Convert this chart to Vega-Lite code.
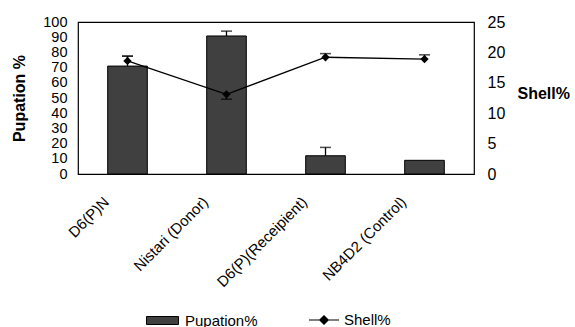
{
  "$schema": "https://vega.github.io/schema/vega-lite/v6.json",
  "autosize": "none",
  "width": 396,
  "height": 152,
  "padding": {"left": 78, "top": 22, "right": 101, "bottom": 153},
  "background": "white",
  "config": {
    "font": "Liberation Sans",
    "view": {"stroke": "black", "strokeWidth": 1.2},
    "axis": {"labelColor": "black", "titleColor": "black", "grid": false, "domain": false, "ticks": false, "labelFont": "Liberation Sans", "titleFont": "Liberation Sans", "labelOverlap": false}
  },
  "data": {
    "values": [
      {"cat": "D6(P)N", "pup": 71, "pupHi": 77.5, "shell": 18.6, "sLo": 18.6, "sHi": 19.4, "sCap": 19.4},
      {"cat": "Nistari (Donor)", "pup": 90.8, "pupHi": 94, "shell": 13.1, "sLo": 12.3, "sHi": 13.1, "sCap": 12.3},
      {"cat": "D6(P)(Receipient)", "pup": 12, "pupHi": 17.5, "shell": 19.2, "sLo": 19.2, "sHi": 19.8, "sCap": 19.8},
      {"cat": "NB4D2 (Control)", "pup": 9, "pupHi": null, "shell": 18.9, "sLo": 18.9, "sHi": 19.6, "sCap": 19.6}
    ]
  },
  "encoding": {
    "x": {
      "field": "cat", "type": "nominal", "sort": null,
      "scale": {"paddingInner": 0.6, "paddingOuter": 0.3},
      "axis": {"title": null, "labelAngle": -45, "labelAlign": "right", "labelBaseline": "middle", "labelFontSize": 15, "labelPadding": 25, "labelOffset": -21, "labelLimit": 300}
    }
  },
  "layer": [
    {
      "layer": [
        {
          "mark": {"type": "bar", "stroke": "black", "strokeWidth": 1},
          "encoding": {
            "y": {"field": "pup", "type": "quantitative", "scale": {"domain": [0, 100]}, "title": "Pupation %",
              "axis": {"orient": "left", "title": "Pupation %", "values": [0,10,20,30,40,50,60,70,80,90,100], "labelOverlap": false, "labelFontSize": 14.5, "labelPadding": 11, "titleFontSize": 16, "titleFontWeight": "bold", "titleAngle": -90, "titleX": -59, "titleY": 76, "titleAlign": "center", "titleBaseline": "middle"}},
            "fill": {"datum": "Pupation%", "type": "nominal", "scale": {"range": ["#404040"]},
              "legend": {"orient": "none", "legendX": 68, "legendY": 282, "title": null, "labelFontSize": 15, "symbolType": "M-1,-0.25H1V0.25H-1Z", "symbolSize": 1024, "symbolStrokeColor": "black", "symbolStrokeWidth": 1, "labelOffset": 6}}
          }
        },
        {
          "transform": [{"filter": "datum.pupHi != null"}],
          "mark": {"type": "rule", "color": "black", "strokeWidth": 1.3},
          "encoding": {
            "y": {"field": "pup", "type": "quantitative", "scale": {"domain": [0, 100]}, "title": "Pupation %",
              "axis": {"orient": "left", "title": "Pupation %", "values": [0,10,20,30,40,50,60,70,80,90,100], "labelOverlap": false, "labelFontSize": 14.5, "labelPadding": 11, "titleFontSize": 16, "titleFontWeight": "bold", "titleAngle": -90, "titleX": -59, "titleY": 76, "titleAlign": "center", "titleBaseline": "middle"}},
            "y2": {"field": "pupHi"}
          }
        },
        {
          "transform": [{"filter": "datum.pupHi != null"}],
          "mark": {"type": "tick", "color": "black", "size": 11, "thickness": 1.5},
          "encoding": {
            "y": {"field": "pupHi", "type": "quantitative", "scale": {"domain": [0, 100]}, "title": "Pupation %",
              "axis": {"orient": "left", "title": "Pupation %", "values": [0,10,20,30,40,50,60,70,80,90,100], "labelOverlap": false, "labelFontSize": 14.5, "labelPadding": 11, "titleFontSize": 16, "titleFontWeight": "bold", "titleAngle": -90, "titleX": -59, "titleY": 76, "titleAlign": "center", "titleBaseline": "middle"}}
          }
        }
      ]
    },
    {
      "layer": [
        {
          "mark": {"type": "line", "strokeWidth": 1.3},
          "encoding": {
            "y": {"field": "shell", "type": "quantitative", "scale": {"domain": [0, 25]}, "title": "Shell%",
              "axis": {"orient": "right", "title": "Shell%", "values": [0,5,10,15,20,25], "labelOverlap": false, "labelFontSize": 16, "labelPadding": 13, "titleFontSize": 16, "titleFontWeight": "bold", "titleAngle": 0, "titleX": 43, "titleY": 71, "titleAlign": "left", "titleBaseline": "middle"}},
            "stroke": {"datum": "Shell%", "type": "nominal", "scale": {"range": ["black"]},
              "legend": {"orient": "none", "legendX": 230, "legendY": 282, "title": null, "labelFontSize": 15, "symbolType": "M-1,0H1M-0.28,0L0,-0.28L0.28,0L0,0.28Z", "symbolSize": 900, "symbolFillColor": "black", "symbolStrokeColor": "black", "symbolStrokeWidth": 1.2, "labelOffset": 4}}
          }
        },
        {
          "mark": {"type": "rule", "color": "black", "strokeWidth": 1.3},
          "encoding": {
            "y": {"field": "sLo", "type": "quantitative", "scale": {"domain": [0, 25]}, "title": "Shell%",
              "axis": {"orient": "right", "title": "Shell%", "values": [0,5,10,15,20,25], "labelOverlap": false, "labelFontSize": 16, "labelPadding": 13, "titleFontSize": 16, "titleFontWeight": "bold", "titleAngle": 0, "titleX": 43, "titleY": 71, "titleAlign": "left", "titleBaseline": "middle"}},
            "y2": {"field": "sHi"}
          }
        },
        {
          "mark": {"type": "tick", "color": "black", "size": 11, "thickness": 1.5},
          "encoding": {
            "y": {"field": "sCap", "type": "quantitative", "scale": {"domain": [0, 25]}, "title": "Shell%",
              "axis": {"orient": "right", "title": "Shell%", "values": [0,5,10,15,20,25], "labelOverlap": false, "labelFontSize": 16, "labelPadding": 13, "titleFontSize": 16, "titleFontWeight": "bold", "titleAngle": 0, "titleX": 43, "titleY": 71, "titleAlign": "left", "titleBaseline": "middle"}}
          }
        },
        {
          "mark": {"type": "point", "shape": "diamond", "filled": true, "color": "black", "size": 70, "opacity": 1},
          "encoding": {
            "y": {"field": "shell", "type": "quantitative", "scale": {"domain": [0, 25]}, "title": "Shell%",
              "axis": {"orient": "right", "title": "Shell%", "values": [0,5,10,15,20,25], "labelOverlap": false, "labelFontSize": 16, "labelPadding": 13, "titleFontSize": 16, "titleFontWeight": "bold", "titleAngle": 0, "titleX": 43, "titleY": 71, "titleAlign": "left", "titleBaseline": "middle"}}
          }
        }
      ]
    }
  ],
  "resolve": {"scale": {"y": "independent", "fill": "independent", "stroke": "independent"}}
}
